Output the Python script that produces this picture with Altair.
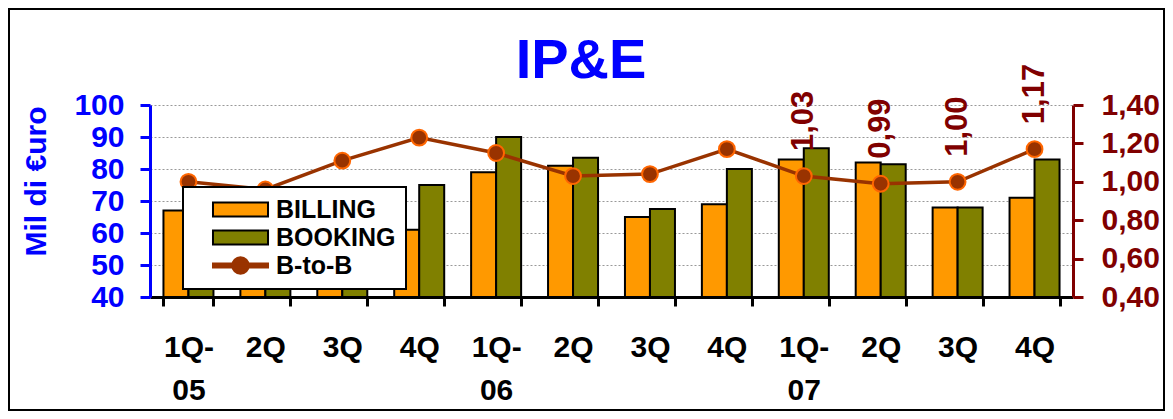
import json
import altair as alt
import pandas as pd

# ---------------- data ----------------
chart_title = ["IP&E"]
quarters = ["1Q-05", "2Q-05", "3Q-05", "4Q-05",
            "1Q-06", "2Q-06", "3Q-06", "4Q-06",
            "1Q-07", "2Q-07", "3Q-07", "4Q-07"]
tick_labels = [["1Q-", "05"], ["2Q"], ["3Q"], ["4Q"],
               ["1Q-", "06"], ["2Q"], ["3Q"], ["4Q"],
               ["1Q-", "07"], ["2Q"], ["3Q"], ["4Q"]]
billing = [67, 72, 62, 61, 79, 81, 65, 69, 83, 82, 68, 71]
booking = [67, 69, 69, 75, 90, 83.5, 67.5, 80, 86.5, 81.5, 68, 83]
b2b = [1.00, 0.96, 1.11, 1.23, 1.15, 1.03, 1.04, 1.17, 1.03, 0.99, 1.00, 1.17]
b2b_labels = ["", "", "", "", "", "", "", "", "1,03", "0,99", "1,00", "1,17"]
series = ["BILLING", "BOOKING", "B-to-B"]
series_colors = ["#FF9900", "#808000", "#993300"]
left_ticks = [40, 50, 60, 70, 80, 90, 100]
right_ticks = [0.4, 0.6, 0.8, 1.0, 1.2, 1.4]

FONT = "Liberation Sans"

bars_df = pd.DataFrame({
    "quarter": quarters * 2,
    "series": ["BILLING"] * len(quarters) + ["BOOKING"] * len(quarters),
    "value": billing + booking,
})
line_df = pd.DataFrame({"quarter": quarters, "b2b": b2b, "label": b2b_labels})
legend_df = pd.DataFrame({"series": series})
title_df = pd.DataFrame({"title": chart_title})

# label expression for two-line x tick labels
expr = ""
for q, lab in zip(quarters, tick_labels):
    expr += f"datum.value == '{q}' ? {json.dumps(lab)} : "
expr += "''"

x_enc = alt.X(
    "quarter:N", sort=quarters,
    scale=alt.Scale(domain=quarters, paddingInner=0.35, paddingOuter=0.175),
    axis=alt.Axis(
        title=None, labelExpr=expr, labelAngle=0, labelFont=FONT,
        labelFontSize=30, labelFontWeight="bold", labelColor="black",
        labelPadding=26, labelBaseline="top", labelLineHeight=43,
        domainColor="black", domainWidth=3, tickColor="black", tickWidth=3,
        tickSize=9, tickBand="extent", grid=False,
    ),
)

bars = alt.Chart(bars_df).mark_bar(stroke="black", strokeWidth=2).encode(
    x=x_enc,
    xOffset=alt.XOffset("series:N", sort=["BILLING", "BOOKING"],
                        scale=alt.Scale(paddingInner=0, paddingOuter=0)),
    y=alt.Y("value:Q",
            scale=alt.Scale(domain=[40, 100], zero=False, nice=False),
            axis=alt.Axis(
                orient="left", values=left_ticks,
                domainColor="#0000FF", domainWidth=3,
                tickColor="#0000FF", tickWidth=3, tickSize=10,
                labelColor="#0000FF", labelFont=FONT, labelFontSize=30,
                labelFontWeight="bold", labelPadding=16,
                title="Mil di €uro", titleColor="#0000FF", titleFont=FONT,
                titleFontSize=30, titleFontWeight="bold",
                titleAngle=270, titleX=-105, titleY=76,
                titleAlign="center", titleBaseline="alphabetic",
                grid=True, gridColor="#999999", gridDash=[2, 2], gridWidth=1,
            )),
    y2=alt.datum(40),
    color=alt.Color("series:N",
                    scale=alt.Scale(domain=["BILLING", "BOOKING"],
                                    range=series_colors[:2]),
                    legend=None),
)

y_right = alt.Y(
    "b2b:Q", scale=alt.Scale(domain=[0.4, 1.4], zero=False, nice=False),
    axis=alt.Axis(
        orient="right", values=right_ticks,
        labelExpr="replace(format(datum.value, '.2f'), '.', ',')",
        domainColor="#800000", domainWidth=3,
        tickColor="#800000", tickWidth=3, tickSize=10,
        labelColor="#800000", labelFont=FONT, labelFontSize=30,
        labelFontWeight="bold", labelPadding=18, title=None, grid=False,
    ),
)

base_line = alt.Chart(line_df).encode(x=x_enc, y=y_right)
line = base_line.mark_line(color="#993300", strokeWidth=3.5)
points = base_line.mark_point(filled=True, fill="#993300", stroke="#FF6600",
                              strokeWidth=2, size=250, opacity=1)
texts = base_line.mark_text(
    angle=270, align="left", baseline="middle", dx=25,
    font=FONT, fontSize=31, fontWeight="bold", color="#800000",
).encode(text="label:N").transform_filter("datum.label != ''")

upper = alt.layer(line, points, texts)

# legend symbols (unit = 7 px with symbolSize 196)
rect_path = "M-3.93,-1H3.93V1H-3.93Z"
line_path = ("M-3.93,-0.28H3.93V0.28H-3.93Z "
             "M1.18,0A1.18,1.18,0,1,1,-1.18,0A1.18,1.18,0,1,1,1.18,0Z")

leg = alt.Legend(
    title=None, orient="none", legendX=33, legendY=82,
    fillColor="white", strokeColor="black", padding=10,
    symbolSize=196, symbolOffset=35, symbolOpacity=1, symbolStrokeWidth=2,
    labelFont=FONT, labelFontSize=25, labelFontWeight="bold",
    labelColor="black", labelOffset=23, rowPadding=2,
)

legend_layer = alt.Chart(legend_df).mark_point(filled=True).encode(
    color=alt.Color("series:N", scale=alt.Scale(domain=series, range=series_colors),
                    legend=leg),
    shape=alt.Shape("series:N",
                    scale=alt.Scale(domain=series,
                                    range=[rect_path, rect_path, line_path]),
                    legend=leg),
    stroke=alt.Stroke("series:N",
                      scale=alt.Scale(domain=series,
                                      range=["#000000", "#000000", "#993300"]),
                      legend=leg),
    opacity=alt.value(0),
)

title_layer = alt.Chart(title_df).mark_text(
    font=FONT, fontSize=56, fontWeight="bold", color="#0000FF",
    align="center", baseline="alphabetic",
).encode(text="title:N", x=alt.value(431), y=alt.value(-27))

frame = alt.Chart(pd.DataFrame({"k": [0]})).mark_rect(
    fillOpacity=0, stroke="black", strokeWidth=2
).encode(
    x=alt.value(-141), x2=alt.value(1014), y=alt.value(-96), y2=alt.value(305)
)

chart = alt.layer(bars, upper, legend_layer, title_layer, frame).resolve_scale(
    y="independent", color="independent", shape="independent",
    stroke="independent",
).properties(
    width=923, height=192,
    autosize=alt.AutoSizeParams(type="none"),
    padding={"left": 142, "top": 97, "right": 92, "bottom": 114},
).configure_view(stroke=None).configure_legend(strokeWidth=2)

chart.save("out.html", embed_options={"renderer": "svg", "actions": False})
